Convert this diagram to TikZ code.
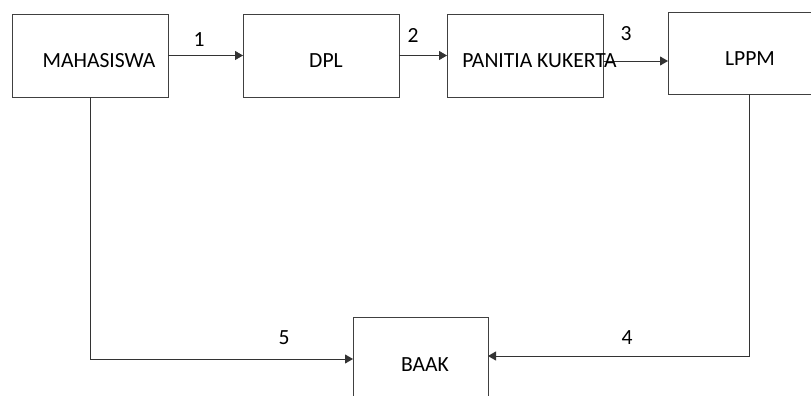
\documentclass[tikz,border=0pt]{standalone}
\usepackage{fontspec}
\setmainfont{Carlito}
\usetikzlibrary{arrows.meta}
\begin{document}
\begin{tikzpicture}[x=1pt,y=-1pt,
  box/.style={draw=black!75,line width=0.9pt,inner sep=0pt,outer sep=0pt},
  txt/.style={font=\fontsize{21.6}{25}\selectfont,text=black,inner sep=0pt},
  arr/.style={draw=black!80,line width=0.9pt,-{Triangle[length=8pt,width=9pt]}}]
\clip (0,0) rectangle (811,396);
\fill[white] (0,0) rectangle (811,396);
% boxes
\node[box,minimum width=156pt,minimum height=83pt] (mah) at (90,55.5) {};
\node[box,minimum width=156pt,minimum height=83pt] (dpl) at (321,55.5) {};
\node[box,minimum width=156pt,minimum height=83pt] (pan) at (525,55.5) {};
\node[box,minimum width=162pt,minimum height=82pt] (lppm) at (749,53) {};
\node[box,minimum width=135pt,minimum height=103pt] (baak) at (420.5,368.5) {};
% connectors
\draw[arr] (mah.east) -- (dpl.west);
\draw[arr] (dpl.east) -- (pan.west);
\coordinate (a3) at ([yshift=-5.5pt]pan.east);
\draw[arr] (a3) -- (a3 -| lppm.west);
\draw[arr] (lppm.south) |- ([yshift=12.5pt]baak.east);
\draw[arr] (mah.south) |- ([yshift=9.5pt]baak.west);
% texts
\node[txt] (tmah) at (99,61) {MAHASISWA};
\node[txt] (tdpl) at (326,61) {DPL};
\node[txt] (tpan) at (539.5,61) {PANITIA KUKERTA};
\node[txt] (tlppm) at (750,59) {LPPM};
\node[txt] (tbaak) at (425,365) {BAAK};
% labels
\node[txt] (l1) at (199,40) {1};
\node[txt] (l2) at (413,35) {2};
\node[txt] (l3) at (626,34) {3};
\node[txt] (l4) at (627,338) {4};
\node[txt] (l5) at (284,338) {5};
\end{tikzpicture}
\end{document}
